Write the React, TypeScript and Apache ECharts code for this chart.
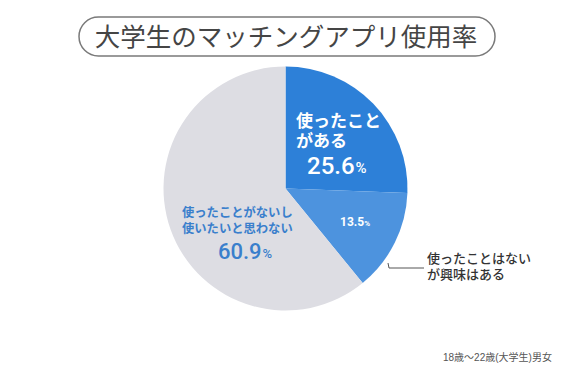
import React, { useEffect, useRef } from "react";
import * as echarts from "echarts";

const categories = ["使ったことがある", "使ったことはないが興味はある", "使ったことがないし使いたいと思わない"];
const values = [25.6, 13.5, 60.9];
const colors = ["#2d80d8", "#4d93de", "#dddde3"];
const slice1Lines = ["使ったこと", "がある"];
const slice2Lines = ["使ったことはない", "が興味はある"];
const slice3Lines = ["使ったことがないし", "使いたいと思わない"];
const titleText = "大学生のマッチングアプリ使用率";
const noteText = "18歳〜22歳(大学生)男女";

const CJK = "'Liberation Sans', 'Noto Sans CJK JP', sans-serif";
const NUM = "Roboto, 'Noto Sans', sans-serif";

function lineTexts(lines: string[], x: number, y0: number, step: number, font: string, fill: string) {
  return lines.map((t, i) => ({
    type: "text",
    x,
    y: y0 + i * step,
    z: 11,
    style: { text: t, fill, font, align: "left", verticalAlign: "middle" },
  }));
}

export default function App() {
  const ref = useRef<HTMLDivElement>(null);
  useEffect(() => {
    if (!ref.current) return;
    const chart = echarts.init(ref.current, null, { renderer: "svg" });
    chart.setOption({
      animation: false,
      backgroundColor: "#ffffff",
      series: [
        {
          type: "pie",
          center: [285.5, 188.5],
          radius: [0, 122],
          startAngle: 90,
          clockwise: true,
          silent: true,
          label: { show: false },
          labelLine: { show: false },
          data: categories.map((name, i) => ({
            name,
            value: values[i],
            itemStyle: { color: colors[i] },
          })),
        },
      ],
      graphic: [
        {
          type: "rect",
          shape: { x: 79, y: 17, width: 416, height: 39, r: 19.5 },
          style: { fill: "#ffffff", stroke: "#7a7a7a", lineWidth: 1.5 },
          z: 10,
        },
        {
          type: "text",
          x: 286,
          y: 37,
          z: 11,
          style: {
            text: titleText,
            fill: "#454545",
            font: `normal 25.5px ${CJK}`,
            align: "center",
            verticalAlign: "middle",
          },
        },
        ...lineTexts(slice1Lines, 296, 121.5, 20, `bold 17px ${CJK}`, "#ffffff"),
        {
          type: "text",
          x: 307,
          y: 166,
          z: 11,
          style: {
            text: `{n|${values[0].toFixed(1)}}{p|%}`,
            align: "left",
            verticalAlign: "middle",
            rich: {
              n: { font: `500 24px ${NUM}`, fill: "#ffffff" },
              p: { font: `500 15px ${NUM}`, fill: "#ffffff", padding: [4, 0, 0, 1] },
            },
          },
        },
        {
          type: "text",
          x: 340,
          y: 222,
          z: 11,
          style: {
            text: `{n|${values[1].toFixed(1)}}{p|%}`,
            align: "left",
            verticalAlign: "middle",
            rich: {
              n: { font: `bold 12px ${NUM}`, fill: "#ffffff" },
              p: { font: `bold 8px ${NUM}`, fill: "#ffffff", padding: [2, 0, 0, 0] },
            },
          },
        },
        {
          type: "polyline",
          z: 11,
          shape: { points: [[388, 263], [389, 268], [424, 268]] },
          style: { stroke: "#555555", lineWidth: 1, fill: null },
        },
        ...lineTexts(slice2Lines, 427, 258, 16, `500 13px ${CJK}`, "#333333"),
        ...lineTexts(slice3Lines, 182, 213, 15.5, `bold 12.3px ${CJK}`, "#3a7fcc"),
        {
          type: "text",
          x: 218,
          y: 251,
          z: 11,
          style: {
            text: `{n|${values[2].toFixed(1)}}{p|%}`,
            align: "left",
            verticalAlign: "middle",
            rich: {
              n: { font: `500 22px ${NUM}`, fill: "#3a7fcc" },
              p: { font: `500 13px ${NUM}`, fill: "#3a7fcc", padding: [4, 0, 0, 1] },
            },
          },
        },
        {
          type: "text",
          x: 443,
          y: 357,
          z: 11,
          style: {
            text: noteText,
            fill: "#555555",
            font: `10px ${CJK}`,
            align: "left",
            verticalAlign: "middle",
          },
        },
      ],
    });
    return () => chart.dispose();
  }, []);
  return <div ref={ref} style={{ width: 570, height: 375, position: "absolute", left: 0, top: 0 }} />;
}
